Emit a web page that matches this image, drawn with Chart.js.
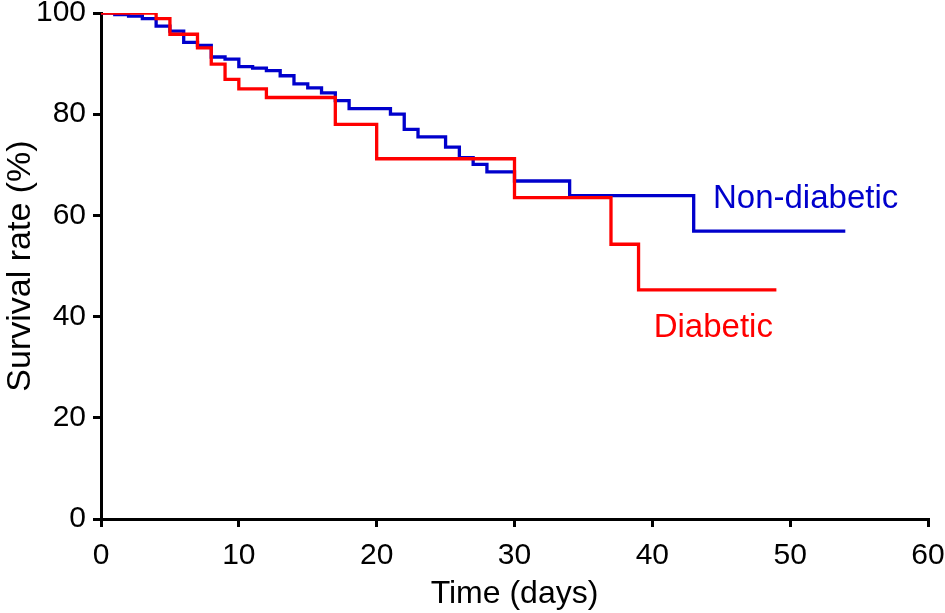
<!DOCTYPE html>
<html>
<head>
<meta charset="utf-8">
<script src="https://cdn.jsdelivr.net/npm/chart.js@4.4.1/dist/chart.umd.min.js"></script>
<style>
  html, body { margin: 0; padding: 0; background: #ffffff; }
  #wrap { width: 945px; height: 613px; }
</style>
</head>
<body>
<div id="wrap"><canvas id="c" width="945" height="613"></canvas></div>
<script>
// Kaplan-Meier step data
const diabeticDays     = [0, 4, 5, 7, 8, 9, 10, 12, 17, 20, 30, 37, 39, 49];
const diabeticSurvival = [100, 98.9, 95.8, 93.1, 89.9, 86.9, 85.0, 83.3, 78.0, 71.2, 63.5, 54.3, 45.3, 45.3];

const nonDiabeticDays     = [0, 1, 2, 3, 4, 5, 6, 7, 8, 9, 10, 11, 12, 13, 14, 15, 16, 17, 18, 21, 22, 23, 25, 26, 27, 28, 30, 34, 43, 54];
const nonDiabeticSurvival = [100, 99.7, 99.4, 98.9, 97.4, 96.4, 94.2, 93.6, 91.3, 90.9, 89.4, 89.1, 88.6, 87.6, 86.0, 85.2, 84.2, 82.7, 81.1, 80.0, 77.0, 75.5, 73.5, 71.4, 70.1, 68.6, 66.8, 63.9, 56.9, 56.9];

const xTicks = [0, 10, 20, 30, 40, 50, 60];
const yTicks = [0, 20, 40, 60, 80, 100];

const seriesLabels = ['Diabetic', 'Non-diabetic'];
// label anchor positions in data units
const labelX = [40.1, 44.4];
const labelY = [36.0, 61.4];

const RED = '#ff0000';
const BLUE = '#0000cc';

function toPoints(xs, ys) { return xs.map((x, i) => ({ x: x, y: ys[i] })); }

const seriesLabelPlugin = {
  id: 'seriesLabels',
  afterDatasetsDraw(chart) {
    const ctx = chart.ctx;
    const xs = chart.scales.x, ys = chart.scales.y;
    ctx.save();
    ctx.font = '33px "Liberation Sans", Arial, sans-serif';
    ctx.textAlign = 'left';
    ctx.textBaseline = 'alphabetic';
    const cols = [RED, BLUE];
    seriesLabels.forEach((t, i) => {
      ctx.fillStyle = cols[i];
      ctx.fillText(t, xs.getPixelForValue(labelX[i]), ys.getPixelForValue(labelY[i]));
    });
    ctx.restore();
  }
};

const FONT = '"Liberation Sans", Arial, sans-serif';

new Chart(document.getElementById('c'), {
  type: 'line',
  data: {
    datasets: [
      {
        label: seriesLabels[0],
        data: toPoints(diabeticDays, diabeticSurvival),
        borderColor: RED,
        borderWidth: 3.3,
        stepped: 'before',
        pointRadius: 0,
        fill: false
      },
      {
        label: seriesLabels[1],
        data: toPoints(nonDiabeticDays, nonDiabeticSurvival),
        borderColor: BLUE,
        borderWidth: 3.3,
        stepped: 'before',
        pointRadius: 0,
        fill: false
      }
    ]
  },
  options: {
    responsive: false,
    animation: false,
    devicePixelRatio: 1,
    layout: { padding: { left: 0, top: 13, right: 17, bottom: 0 } },
    plugins: { legend: { display: false }, tooltip: { enabled: false } },
    scales: {
      x: {
        type: 'linear',
        min: 0, max: 60,
        afterBuildTicks(scale) { scale.ticks = xTicks.map(v => ({ value: v })); },
        afterFit(scale) { scale.height = 94; scale.paddingLeft = 0; scale.paddingRight = 0; },
        grid: { drawOnChartArea: false, drawTicks: true, tickLength: 8, tickWidth: 3, tickColor: '#000', color: '#000', lineWidth: 3 },
        border: { display: true, color: '#000', width: 3 },
        ticks: { color: '#000', font: { family: FONT, size: 30 }, padding: 11, maxRotation: 0 },
        title: { display: true, text: 'Time (days)', color: '#000', font: { family: FONT, size: 32, lineHeight: 1.2 }, padding: 0 }
      },
      y: {
        type: 'linear',
        min: 0, max: 100,
        afterBuildTicks(scale) { scale.ticks = yTicks.map(v => ({ value: v })); },
        afterFit(scale) { scale.width = 101; scale.paddingTop = 0; scale.paddingBottom = 0; },
        grid: { drawOnChartArea: false, drawTicks: true, tickLength: 8, tickWidth: 3, tickColor: '#000', color: '#000', lineWidth: 3 },
        border: { display: true, color: '#000', width: 3 },
        ticks: { color: '#000', font: { family: FONT, size: 30, lineHeight: 0.8 }, padding: 7 },
        title: { display: true, text: 'Survival rate (%)', color: '#000', font: { family: FONT, size: 34, lineHeight: 1.2 }, padding: 0 }
      }
    }
  },
  plugins: [seriesLabelPlugin]
});
</script>
</body>
</html>
